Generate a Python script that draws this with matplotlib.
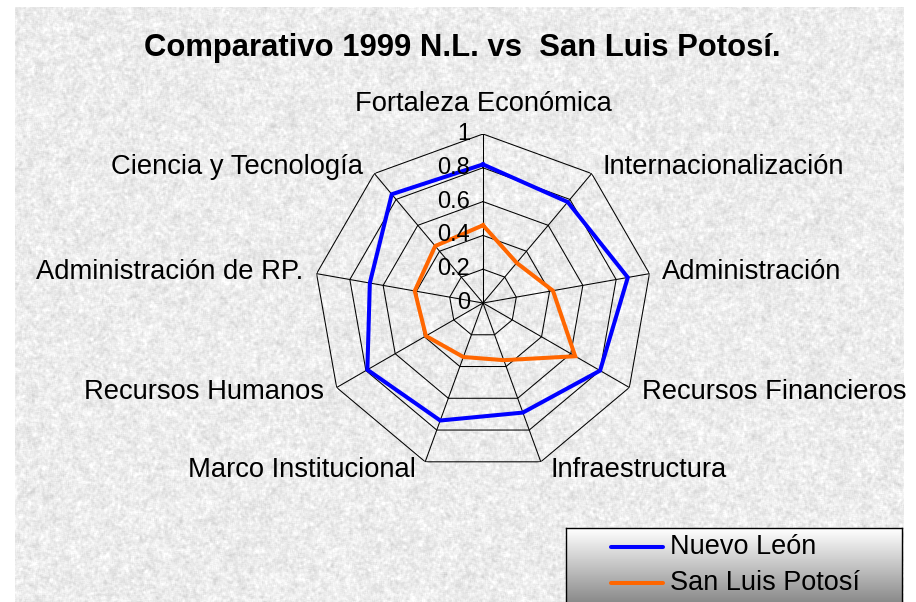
#!/usr/bin/env python3
import numpy as np
import matplotlib
matplotlib.use('Agg')
import matplotlib.pyplot as plt

plt.rcParams['font.family'] = ['Liberation Sans', 'DejaVu Sans']

title = 'Comparativo 1999 N.L. vs  San Luis Potosí.'
categories = ['Fortaleza Económica', 'Internacionalización', 'Administración',
              'Recursos Financieros', 'Infraestructura', 'Marco Institucional',
              'Recursos Humanos', 'Administración de RP.', 'Ciencia y Tecnología']
nuevo_leon = [0.82, 0.78, 0.87, 0.80, 0.69, 0.74, 0.79, 0.68, 0.84]
san_luis = [0.46, 0.31, 0.42, 0.63, 0.36, 0.34, 0.39, 0.41, 0.44]
series_names = ['Nuevo León', 'San Luis Potosí']
series_colors = ['#0000ff', '#ff6600']
rings = [0.2, 0.4, 0.6, 0.8, 1.0]
ring_labels = ['0', '0.2', '0.4', '0.6', '0.8', '1']


def blur(a, r):
    out = np.zeros_like(a)
    for dy in range(-r, r + 1):
        for dx in range(-r, r + 1):
            out += np.roll(np.roll(a, dy, 0), dx, 1)
    out /= (2 * r + 1) ** 2
    return (out - out.mean()) / out.std()


def granite(h, w, seed=7):
    # mottled light grey stone texture for the slide background
    rng = np.random.default_rng(seed)
    fine = blur(rng.normal(size=(h, w)), 1)
    mid = blur(rng.normal(size=(h, w)), 3)
    tex = 0.925 + 0.024 * fine + 0.014 * mid
    return np.clip(tex, 0.7, 1.0)


W, H = 916, 602
fig = plt.figure(figsize=(W / 100, H / 100), dpi=100)
fig.patch.set_facecolor('white')

# background
bg = fig.add_axes([15 / W, 0, 889 / W, 595 / H])
bg.imshow(granite(595, 889), cmap='gray', vmin=0, vmax=1,
          interpolation='nearest', aspect='auto')
bg.set_axis_off()

fig.text(462 / W, 1 - 48 / H, title, ha='center', va='center',
         fontsize=22.3, fontweight='bold')

# radar
cx, cy, R = 483, 303, 169
ax = fig.add_axes([(cx - R) / W, (H - cy - R) / H, 2 * R / W, 2 * R / H],
                  projection='polar')
ax.set_facecolor('none')
ax.set_theta_offset(np.pi / 2)
ax.set_theta_direction(-1)
ax.set_ylim(0, 1)
ax.grid(False)
ax.set_xticks([])
ax.set_yticks([])
ax.spines['polar'].set_visible(False)

n = len(categories)
theta = np.arange(n) * 2 * np.pi / n
closed = np.append(theta, theta[0])

for r in rings:
    ax.plot(closed, [r] * (n + 1), color='black', lw=0.75, zorder=1)
for t in theta:
    ax.plot([t, t], [0, 1], color='black', lw=0.75, zorder=1)

for vals, col in zip([nuevo_leon, san_luis], series_colors):
    ax.plot(closed, vals + vals[:1], color=col, lw=2.9, zorder=3,
            solid_joinstyle='miter')

for r, lab in zip([0] + rings, ring_labels):
    ax.annotate(lab, xy=(0, r), xytext=(-13, 0), textcoords='offset pixels',
                ha='right', va='center', fontsize=17, zorder=4)

for t, lab in zip(theta, categories):
    ang = np.pi / 2 - t
    c, s = np.cos(ang), np.sin(ang)
    if abs(c) < 0.1:
        ha, off = 'center', (0, 30)
    else:
        ha = 'left' if c > 0 else 'right'
        off = (np.sign(c) * (8 + 5 * abs(c)), 9 * s)
    ax.annotate(lab, xy=(t, 1), xytext=off, textcoords='offset pixels',
                ha=ha, va='center', fontsize=19.7, annotation_clip=False)

# legend box with grey gradient
lg = fig.add_axes([566 / W, -20 / H, 336 / W, 94 / H])
grad = np.linspace(1.0, 0.42, 100).reshape(-1, 1)
lg.imshow(grad, cmap='gray', vmin=0, vmax=1, aspect='auto',
          extent=[0, 336, 0, 94])
lg.set_xlim(0, 336)
lg.set_ylim(0, 94)
lg.set_xticks([])
lg.set_yticks([])
for sp in lg.spines.values():
    sp.set_linewidth(1.0)
for i, (name, col) in enumerate(zip(series_names, series_colors)):
    yy = 94 - 19 - 36 * i
    lg.plot([45, 97], [yy, yy], color=col, lw=2.9, solid_capstyle='round')
    lg.text(104, yy, name, ha='left', va='center', fontsize=19.5)

plt.savefig('out.png', dpi=100)
